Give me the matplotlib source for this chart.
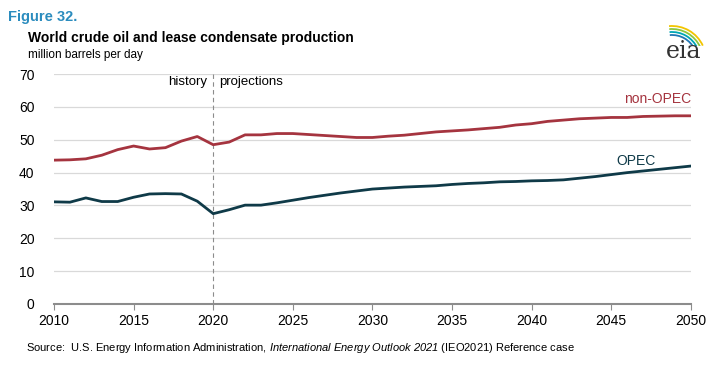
import matplotlib.pyplot as plt
import numpy as np
from matplotlib.patches import Arc

plt.rcParams['font.family'] = ['Liberation Sans', 'DejaVu Sans']
# math text is only used for the italic report title in the source line
plt.rcParams['mathtext.fontset'] = 'custom'
plt.rcParams['mathtext.rm'] = 'Liberation Sans:italic'
plt.rcParams['mathtext.it'] = 'Liberation Sans:italic'

years = list(range(2010, 2051))
non_opec = [43.8, 43.9, 44.2, 45.3, 47.0, 48.1, 47.2, 47.6, 49.6, 51.0,
            48.5, 49.3, 51.5, 51.5, 51.9, 51.9, 51.6, 51.3, 51.0, 50.7,
            50.7, 51.1, 51.4, 51.9, 52.4, 52.7, 53.0, 53.4, 53.8, 54.5,
            54.9, 55.6, 56.0, 56.4, 56.6, 56.8, 56.8, 57.1, 57.2, 57.3, 57.3]
opec = [31.1, 31.0, 32.3, 31.2, 31.2, 32.5, 33.5, 33.6, 33.5, 31.3,
        27.5, 28.7, 30.1, 30.1, 30.8, 31.6, 32.4, 33.1, 33.8, 34.4,
        35.0, 35.3, 35.6, 35.8, 36.0, 36.4, 36.7, 36.9, 37.2, 37.3,
        37.5, 37.6, 37.8, 38.3, 38.8, 39.4, 40.0, 40.5, 41.0, 41.5, 42.0]
xticks = list(range(2010, 2051, 5))
yticks = list(range(0, 71, 10))

red = '#a5343f'
teal = '#0f3a48'

fig = plt.figure(figsize=(7.22, 3.72), dpi=100)
ax = fig.add_axes([0.0748, 0.1828, 0.882, 0.618])

for y in yticks[1:]:
    ax.axhline(y, color='#d9d9d9', lw=0.9, zorder=0)
ax.axvline(2020, color='#8c8c8c', lw=0.8, ls=(0, (4, 3)), zorder=1)

ax.plot(years, non_opec, color=red, lw=2.0, zorder=3)
ax.plot(years, opec, color=teal, lw=2.0, zorder=3)

ax.set_xlim(2010, 2050)
ax.set_ylim(0, 70)
ax.set_xticks(xticks)
ax.set_yticks(yticks)
ax.tick_params(axis='x', length=4, color='#8c8c8c', labelsize=10, pad=3)
ax.tick_params(axis='y', length=0, labelsize=10, pad=14)
for s in ['top', 'right', 'left']:
    ax.spines[s].set_visible(False)
ax.spines['bottom'].set_color('#8c8c8c')
ax.spines['bottom'].set_linewidth(1.5)

ax.text(2019.6, 67.6, 'history', ha='right', va='center', fontsize=9.5)
ax.text(2020.4, 67.6, 'projections', ha='left', va='center', fontsize=9.5)
ax.text(2050, 62.5, 'non-OPEC', ha='right', va='center', fontsize=10, color=red)
ax.text(2047.8, 43.5, 'OPEC', ha='right', va='center', fontsize=10, color=teal)

fig.text(8/722, 1 - 17/372, 'Figure 32.', fontsize=10.5, fontweight='bold',
         color='#2b8cbe', va='center')
fig.text(28/722, 1 - 38/372, 'World crude oil and lease condensate production',
         fontsize=10, fontweight='bold', va='center')
fig.text(28/722, 1 - 55/372, 'million barrels per day', fontsize=8.5, va='center')
fig.text(26/722, 1 - 348/372,
         'Source:  U.S. Energy Information Administration, $\\it{International\\ Energy\\ Outlook\\ 2021}$ (IEO2021) Reference case',
         fontsize=8, va='center')

# eia logo
fig.text(684/722, 1 - 52/372, 'eia', fontsize=17, family='DejaVu Serif',
         ha='center', va='center', color='#333333')
lax = fig.add_axes([664/722, 1 - 46/372, 46/722, 22/372])
lax.set_xlim(0, 46)
lax.set_ylim(0, 22)
lax.axis('off')
for r, c in [(34, '#f2c500'), (31, '#8dc63f'), (28, '#00a7b5'), (25, '#1f77b4')]:
    lax.add_patch(Arc((8, -14), 2 * r, 2 * r, theta1=25, theta2=95, color=c, lw=1.3))

fig.savefig('out.png', dpi=100)
